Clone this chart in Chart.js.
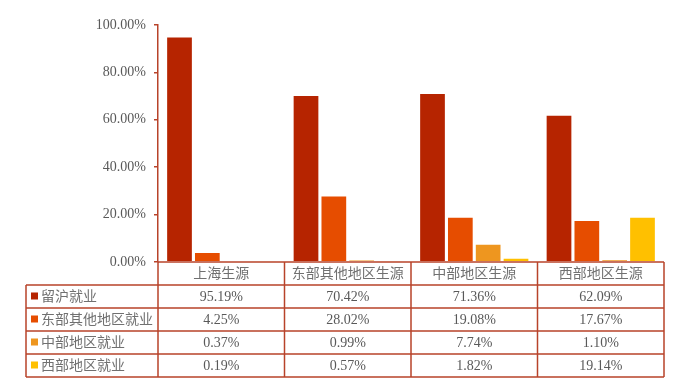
<!DOCTYPE html>
<html>
<head>
<meta charset="utf-8">
<script src="https://cdn.jsdelivr.net/npm/chart.js@4/dist/chart.umd.min.js"></script>
<style>
  body { margin: 0; background: #fff; }
</style>
</head>
<body>
<canvas id="chart" width="688" height="391"></canvas>
<script>
// 数据
const categories = ["上海生源", "东部其他地区生源", "中部地区生源", "西部地区生源"];
const seriesNames = ["留沪就业", "东部其他地区就业", "中部地区就业", "西部地区就业"];
const stayShanghai = [95.19, 70.42, 71.36, 62.09];
const eastOther = [4.25, 28.02, 19.08, 17.67];
const central = [0.37, 0.99, 7.74, 1.10];
const western = [0.19, 0.57, 1.82, 19.14];
const seriesColors = ["#B62400", "#E64D00", "#EE961F", "#FFC000"];

const axisColor = "#B8432A";
const textColor = "#595959";
const cjkColor = "#707070";
const numFont = "'Liberation Serif', 'Times New Roman', serif";
const cjkFont = "'Liberation Serif', 'Noto Sans CJK SC', serif";

const allSeries = [stayShanghai, eastOther, central, western];

// 数据表插件
const dataTable = {
    id: "dataTable",
    afterDraw(chart) {
        const ctx = chart.ctx;
        const area = chart.chartArea;
        const xs = chart.scales.x;
        const rowH = 23;
        const tableLeft = 26;
        const top = area.bottom;
        const colW = (area.right - area.left) / categories.length;

        ctx.save();
        ctx.strokeStyle = axisColor;
        ctx.lineWidth = 1.5;
        ctx.textBaseline = "middle";
        ctx.textAlign = "center";

        // 表头
        ctx.beginPath();
        ctx.moveTo(area.left, top);
        ctx.lineTo(area.right, top);
        ctx.stroke();
        ctx.font = "14px " + cjkFont;
        ctx.fillStyle = cjkColor;
        categories.forEach((c, i) => {
            ctx.fillText(c, xs.getPixelForValue(i), top + rowH / 2 + 1);
        });

        // 数据行
        const rowsTop = top + rowH;
        for (let r = 0; r < seriesNames.length; r++) {
            const y = rowsTop + r * rowH;
            ctx.fillStyle = seriesColors[r];
            ctx.fillRect(tableLeft + 5, y + rowH / 2 - 4, 7, 7);
            ctx.fillStyle = cjkColor;
            ctx.textAlign = "left";
            ctx.font = "14px " + cjkFont;
            ctx.fillText(seriesNames[r], tableLeft + 15, y + rowH / 2 + 1);
            ctx.fillStyle = textColor;
            ctx.textAlign = "center";
            ctx.font = "14px " + numFont;
            allSeries[r].forEach((v, i) => {
                ctx.fillText(v.toFixed(2) + "%", xs.getPixelForValue(i), y + rowH / 2 + 1);
            });
        }

        // 网格线
        ctx.beginPath();
        for (let r = 0; r <= seriesNames.length; r++) {
            const y = rowsTop + r * rowH;
            ctx.moveTo(tableLeft, y);
            ctx.lineTo(area.right, y);
        }
        const bottom = rowsTop + seriesNames.length * rowH;
        ctx.moveTo(tableLeft, rowsTop);
        ctx.lineTo(tableLeft, bottom);
        for (let i = 0; i <= categories.length; i++) {
            const x = area.left + i * colW;
            ctx.moveTo(x, top);
            ctx.lineTo(x, bottom);
        }
        ctx.stroke();
        ctx.restore();
    }
};

new Chart(document.getElementById("chart"), {
    type: "bar",
    data: {
        labels: categories,
        datasets: seriesNames.map((name, i) => ({
            label: name,
            data: allSeries[i],
            backgroundColor: seriesColors[i],
            borderColor: "rgba(255,255,255,0.35)",
            borderWidth: 1,
            barPercentage: 0.96,
            categoryPercentage: 0.88
        }))
    },
    options: {
        responsive: false,
        animation: false,
        layout: { padding: { top: 25, right: 24, bottom: 129, left: 0 } },
        plugins: {
            legend: { display: false },
            tooltip: { enabled: false }
        },
        scales: {
            x: { display: false },
            y: {
                min: 0,
                max: 100,
                afterFit(scale) { scale.width = 158; },
                ticks: {
                    stepSize: 20,
                    color: textColor,
                    font: { family: numFont, size: 14 },
                    padding: 8,
                    callback: (v) => v.toFixed(2) + "%"
                },
                grid: {
                    drawOnChartArea: false,
                    drawTicks: true,
                    tickLength: 4,
                    color: axisColor,
                    lineWidth: 1.5
                },
                border: { color: axisColor, width: 1.5 }
            }
        }
    },
    plugins: [dataTable]
});
</script>
</body>
</html>
